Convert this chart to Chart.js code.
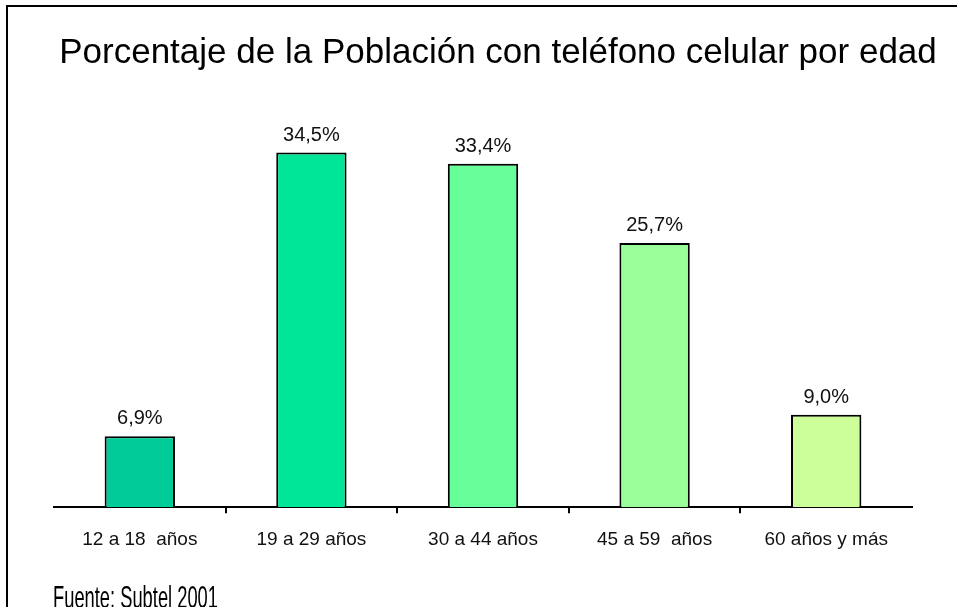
<!DOCTYPE html>
<html>
<head>
<meta charset="utf-8">
<script src="https://cdn.jsdelivr.net/npm/chart.js@4"></script>
<style>
  html, body { margin: 0; padding: 0; background: #fff; }
  #wrap { position: relative; width: 957px; height: 607px; }
</style>
</head>
<body>
<div id="wrap"><canvas id="chart" width="957" height="607"></canvas></div>
<script>
const FONT = "'Liberation Sans', Arial, sans-serif";

const titleText = 'Porcentaje de la Población con teléfono celular por edad';
const sourceText = 'Fuente: Subtel 2001';
const ageGroups = ['12 a 18  años', '19 a 29 años', '30 a 44 años', '45 a 59  años', '60 años y más'];
const percentages = [6.9, 34.5, 33.4, 25.7, 9.0];
const barColors = ['#00cc99', '#00e699', '#66ff99', '#99ff99', '#ccff99'];

// page frame, heading and source note
const framePlugin = {
    id: 'frame',
    beforeDraw(chart) {
        const c = chart.ctx;
        c.save();
        c.fillStyle = '#fff';
        c.fillRect(0, 0, chart.width, chart.height);
        c.strokeStyle = '#000';
        c.lineWidth = 2;
        c.beginPath();
        c.moveTo(chart.width, 6);
        c.lineTo(7, 6);
        c.lineTo(7, chart.height);
        c.stroke();
        c.restore();
    },
    afterDraw(chart) {
        const c = chart.ctx;
        c.save();
        c.fillStyle = '#000';
        c.textBaseline = 'alphabetic';

        c.font = '35px ' + FONT;
        c.textAlign = 'center';
        c.fillText(titleText, 498, 63);

        c.font = '32px ' + FONT;
        c.textAlign = 'left';
        const w = c.measureText(sourceText).width;
        c.translate(53, 608);
        c.scale(165 / w, 1);
        c.fillText(sourceText, 0, 0);
        c.restore();
    }
};

// percentage text above each bar
const valueLabels = {
    id: 'valueLabels',
    afterDatasetsDraw(chart) {
        const c = chart.ctx;
        const meta = chart.getDatasetMeta(0);
        c.save();
        c.font = '20px ' + FONT;
        c.fillStyle = '#111';
        c.textAlign = 'center';
        c.textBaseline = 'alphabetic';
        meta.data.forEach((bar, i) => {
            c.fillText(percentages[i].toFixed(1).replace('.', ',') + '%', bar.x, bar.y - 12);
        });
        c.restore();
    }
};

new Chart(document.getElementById('chart'), {
    type: 'bar',
    data: {
        labels: ageGroups,
        datasets: [{
            data: percentages,
            backgroundColor: barColors,
            borderColor: '#000',
            borderWidth: 2,
            borderSkipped: 'bottom',
            categoryPercentage: 1,
            barPercentage: 0.41
        }]
    },
    options: {
        responsive: false,
        animation: false,
        layout: { padding: { left: 54, right: 45, top: 96, bottom: 41 } },
        plugins: {
            legend: { display: false },
            tooltip: { enabled: false },
            title: { display: false }
        },
        scales: {
            x: {
                border: { display: true, color: '#000', width: 2 },
                grid: {
                    drawOnChartArea: false,
                    drawTicks: true,
                    tickLength: 6,
                    lineWidth: 2,
                    color: c => (c.type === 'tick' && c.index > 0) ? '#000' : 'rgba(0,0,0,0)'
                },
                ticks: {
                    color: '#111',
                    font: { family: FONT, size: 19 },
                    padding: 15,
                    maxRotation: 0
                }
            },
            y: {
                display: false,
                min: 0,
                max: 40
            }
        }
    },
    plugins: [framePlugin, valueLabels]
});
</script>
</body>
</html>
